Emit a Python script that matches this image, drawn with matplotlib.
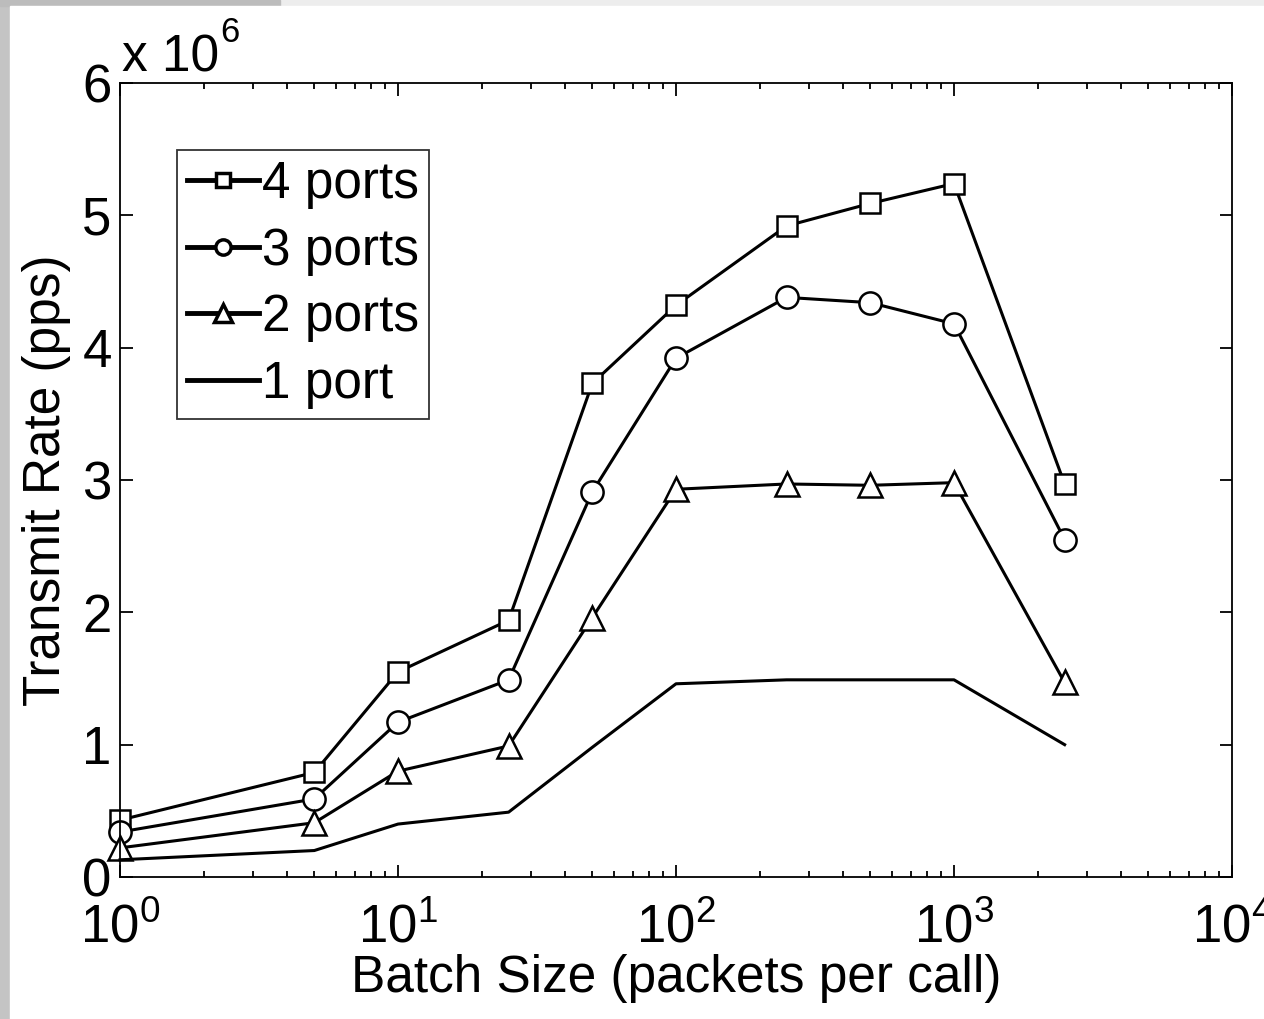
import math
import matplotlib.pyplot as plt
from matplotlib.ticker import FixedLocator, FuncFormatter, LogLocator, NullFormatter
from matplotlib.patches import Rectangle

plt.rcParams['font.family'] = ['Liberation Sans', 'DejaVu Sans']
plt.rcParams['mathtext.fontset'] = 'custom'
plt.rcParams['mathtext.rm'] = 'Liberation Sans'
plt.rcParams['mathtext.it'] = 'Liberation Sans'

# batch sizes (packets per call)
batch = [1, 5, 10, 25, 50, 100, 250, 500, 1000, 2500]

# transmit rate, in units of 10^6 pps
ports4 = [0.43, 0.79, 1.55, 1.94, 3.73, 4.32, 4.92, 5.09, 5.24, 2.97]
ports3 = [0.34, 0.59, 1.17, 1.49, 2.91, 3.92, 4.38, 4.34, 4.18, 2.55]
ports2 = [0.22, 0.41, 0.80, 0.99, 1.96, 2.93, 2.97, 2.96, 2.98, 1.47]
port1 = [0.13, 0.20, 0.40, 0.49, 0.98, 1.46, 1.49, 1.49, 1.49, 1.00]

labels = ['4 ports', '3 ports', '2 ports', '1 port']

W, H = 1264, 1019
fig = plt.figure(figsize=(W / 100, H / 100), dpi=100, facecolor='#ededed')
# screenshot frame: grey strips along the left and top edge
fig.patches.append(Rectangle((0, 0), 10 / W, 1, transform=fig.transFigure,
                             color='#c4c4c4', zorder=-3))
fig.patches.append(Rectangle((0, 1 - 6 / H), 280 / W, 6 / H,
                             transform=fig.transFigure, color='#bcbcbc', zorder=-3))
fig.patches.append(Rectangle((10 / W, 0), 1, 1 - 6 / H,
                             transform=fig.transFigure, color='white', zorder=-3))

ax = fig.add_axes([120 / W, 142 / H, 1112 / W, 794 / H])
ax.set_zorder(2)

kw = dict(color='black', lw=2.2, mfc='white', mec='black', mew=1.8, clip_on=False)
ax.plot(batch, ports4, marker='s', ms=14, label=labels[0], **kw)
ax.plot(batch, ports3, marker='o', ms=16, label=labels[1], **kw)
ax.plot(batch, ports2, marker='^', ms=17, label=labels[2], **kw)
ax.plot(batch, port1, label=labels[3], **kw)

ax.set_xscale('log')
ax.set_xlim(1, 1e4)
ax.set_ylim(0, 6)
ax.xaxis.set_major_locator(FixedLocator([1, 10, 100, 1000, 10000]))
ax.xaxis.set_major_formatter(FuncFormatter(lambda v, p: r'$10^{%d}$' % round(math.log10(v))))
ax.xaxis.set_minor_locator(LogLocator(base=10, subs=range(2, 10)))
ax.xaxis.set_minor_formatter(NullFormatter())
ax.set_yticks(range(7))

ax.tick_params(which='both', direction='in', top=True, right=True, labelsize=38,
               width=1.3)
ax.tick_params(axis='y', pad=6)
ax.tick_params(axis='x', pad=19)
ax.tick_params(which='major', length=9)
ax.tick_params(which='minor', length=4.5)
for s in ax.spines.values():
    s.set_linewidth(1.3)

ax.set_xlabel('Batch Size (packets per call)', fontsize=37, labelpad=0)
ax.set_ylabel('Transmit Rate (pps)', fontsize=37, labelpad=8)

# MATLAB-style exponent above the y axis
fig.text(122 / W, 1 - 72 / H, 'x 10', fontsize=37, ha='left', va='baseline')
fig.text(220 / W, 1 - 42 / H, '6', fontsize=25, ha='left', va='baseline')

leg = ax.legend(loc='upper left', bbox_to_anchor=(0.0513, 0.9156), fontsize=37,
                frameon=True, fancybox=False, edgecolor='black', handlelength=1.4,
                handletextpad=0.05, borderpad=0.2, labelspacing=0.34,
                borderaxespad=0)
leg.get_frame().set_linewidth(1.3)
for h, ms in zip(leg.get_lines(), [10, 11, 13, 0]):
    h.set_linewidth(3.5)
    h.set_markersize(ms)
    h.set_markeredgewidth(2.5)

fig.savefig('out.png', dpi=100, facecolor=fig.get_facecolor())
